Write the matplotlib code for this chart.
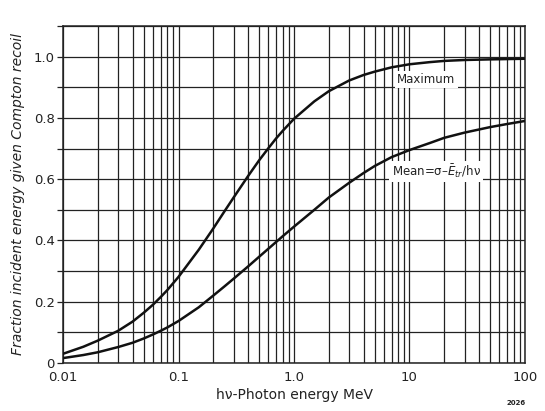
import matplotlib.pyplot as plt
import matplotlib.ticker as mticker
import numpy as np

# photon energy, MeV
energy = [0.01, 0.015, 0.02, 0.03, 0.04, 0.05, 0.06, 0.07, 0.08, 0.1,
          0.15, 0.2, 0.25, 0.3, 0.4, 0.5, 0.6, 0.7, 0.8, 1.0,
          1.5, 2.0, 3.0, 4.0, 5.0, 7.0, 10.0, 15.0, 20.0, 30.0, 50.0, 70.0, 100.0]
# fraction of incident energy given to Compton recoil
maximum = [0.030, 0.053, 0.073, 0.105, 0.135, 0.164, 0.190, 0.215, 0.238, 0.281,
           0.370, 0.439, 0.495, 0.540, 0.610, 0.662, 0.701, 0.733, 0.758, 0.797,
           0.854, 0.887, 0.922, 0.940, 0.951, 0.965, 0.975, 0.982, 0.986, 0.989,
           0.991, 0.992, 0.993]
mean = [0.016, 0.026, 0.035, 0.052, 0.066, 0.080, 0.093, 0.105, 0.116, 0.137,
        0.182, 0.220, 0.250, 0.275, 0.315, 0.347, 0.373, 0.395, 0.414, 0.445,
        0.500, 0.540, 0.588, 0.620, 0.643, 0.672, 0.695, 0.718, 0.735, 0.752,
        0.770, 0.780, 0.790]

xticks = [0.01, 0.1, 1.0, 10, 100]
xlabels = ['0.01', '0.1', '1.0', '10', '100']
yticks = [0, 0.2, 0.4, 0.6, 0.8, 1.0]
ylabels = ['0', '0.2', '0.4', '0.6', '0.8', '1.0']

fig = plt.figure(figsize=(5.45, 4.11), dpi=100)
ax = fig.add_axes([0.1156, 0.1168, 0.8477, 0.82])

ax.plot(energy, maximum, color='#111111', lw=1.8, zorder=3)
ax.plot(energy, mean, color='#111111', lw=1.8, zorder=3)

ax.set_xscale('log')
ax.set_xlim(0.01, 100)
ax.set_ylim(0, 1.1)

ax.xaxis.set_major_locator(mticker.FixedLocator(xticks))
ax.xaxis.set_major_formatter(mticker.FixedFormatter(xlabels))
ax.xaxis.set_minor_locator(mticker.LogLocator(base=10, subs=np.arange(2, 10)))
ax.xaxis.set_minor_formatter(mticker.NullFormatter())
ax.set_yticks(yticks)
ax.set_yticklabels(ylabels)
ax.yaxis.set_minor_locator(mticker.MultipleLocator(0.1))

ax.grid(which='both', color='#222222', lw=0.9)
ax.tick_params(axis='x', which='both', length=0, labelsize=9.5, colors='#222222', pad=6)
ax.tick_params(axis='y', which='both', direction='out', length=4, width=0.9,
               labelsize=9.5, colors='#222222', pad=2)
for s in ax.spines.values():
    s.set_color('#222222')
    s.set_linewidth(1.1)

ax.set_xlabel('h\u03bd-Photon energy MeV', fontsize=10, color='#222222', labelpad=3)
ax.set_ylabel('Fraction incident energy given Compton recoil', fontsize=10,
              style='italic', color='#222222', labelpad=6)

box = dict(facecolor='white', edgecolor='none', pad=1.5)
ax.text(14, 0.925, 'Maximum', fontsize=8.5, color='#222222', ha='center', va='center', bbox=box)
ax.text(7.0, 0.625, 'Mean=\u03c3\u2013$\\bar{E}_{tr}$/h\u03bd', fontsize=8.5, color='#222222',
        ha='left', va='center', bbox=box)

fig.text(0.965, 0.012, '2026', fontsize=5, color='#222222', ha='right', va='bottom', weight='bold')

fig.savefig('out.png', dpi=100)
